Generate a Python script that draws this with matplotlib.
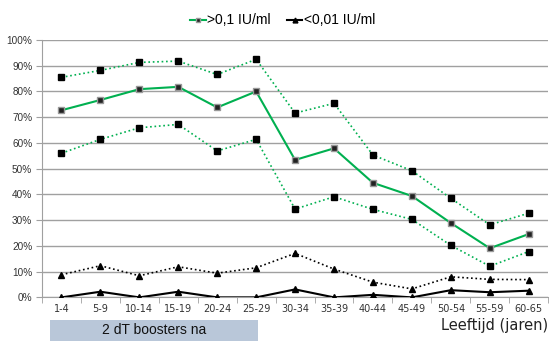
import matplotlib
matplotlib.use("Agg")
import matplotlib.pyplot as plt
from matplotlib.lines import Line2D
from matplotlib.patches import Rectangle

categories = ["1-4", "5-9", "10-14", "15-19", "20-24", "25-29", "30-34",
              "35-39", "40-44", "45-49", "50-54", "55-59", "60-65"]
# >0,1 IU/ml with upper and lower bound (%)
high_mid = [72.7, 76.7, 80.9, 81.8, 73.8, 80.0, 53.4, 57.9, 44.5, 39.4, 28.9, 19.1, 24.6]
high_upper = [85.5, 88.2, 91.3, 91.8, 86.6, 92.5, 71.6, 75.4, 55.3, 49.2, 38.5, 28.2, 32.7]
high_lower = [56.0, 61.4, 65.9, 67.2, 56.9, 61.4, 34.3, 39.1, 34.2, 30.3, 20.2, 12.1, 17.8]
# <0,01 IU/ml with upper bound (%)
low_mid = [0.0, 2.2, 0.0, 2.2, 0.0, 0.0, 3.1, 0.0, 1.0, 0.0, 2.8, 2.0, 2.6]
low_upper = [8.8, 12.3, 8.4, 11.9, 9.4, 11.5, 17.1, 11.0, 5.9, 3.3, 8.0, 7.0, 6.9]

green = "#00b050"
grid_col = "#a0a0a0"

fig = plt.figure(figsize=(5.49, 3.41), dpi=100)
ax = fig.add_axes([0.0765, 0.1279, 0.922, 0.7548])

x = list(range(len(categories)))

ax.plot(x, high_upper, ":", color=green, lw=1.2, marker="s", ms=5,
        mfc="black", mec="black", zorder=3)
ax.plot(x, high_lower, ":", color=green, lw=1.2, marker="s", ms=5,
        mfc="black", mec="black", zorder=3)
ax.plot(x, high_mid, "-", color=green, lw=1.5, marker="s", ms=4,
        mfc="#222222", mec="#999999", mew=1, zorder=4)
ax.plot(x, low_upper, ":", color="black", lw=1.2, marker="^", ms=5,
        mfc="black", mec="black", zorder=3)
ax.plot(x, low_mid, "-", color="black", lw=1.5, marker="^", ms=5,
        mfc="black", mec="black", zorder=4)

ax.set_xlim(-0.5, len(categories) - 0.5)
ax.set_ylim(0, 100)
ax.set_yticks(range(0, 101, 10))
ax.set_yticklabels([f"{v}%" for v in range(0, 101, 10)],
                   fontsize=7.2, family="Liberation Sans", color="#333333")
ax.yaxis.grid(True, color=grid_col, lw=1)
ax.set_axisbelow(True)

ax.set_xticks(x)
ax.set_xticklabels(categories, fontsize=7, family="DejaVu Sans", color="#333333")
ax.set_xticks([i - 0.5 for i in range(len(categories) + 1)], minor=True)
ax.tick_params(axis="x", which="major", length=0, pad=5)
ax.tick_params(axis="x", which="minor", length=4, color=grid_col)
ax.tick_params(axis="y", length=4, color=grid_col, pad=3)

for s in ["top", "right"]:
    ax.spines[s].set_visible(False)
ax.spines["left"].set_color(grid_col)
ax.spines["bottom"].set_color(grid_col)

handles = [
    Line2D([], [], color=green, lw=1.5, marker="s", ms=3.5, mfc="#222222", mec="#999999"),
    Line2D([], [], color="black", lw=1.5, marker="^", ms=3.5, mfc="black", mec="black"),
]
fig.legend(handles, [">0,1 IU/ml", "<0,01 IU/ml"], loc="center",
           bbox_to_anchor=(0.515, 0.94), ncol=2, frameon=False,
           handlelength=1.1, handletextpad=0.1, columnspacing=1.2,
           prop={"family": "Liberation Sans", "size": 10})

fig.text(0.998, 0.044, "Leeftijd (jaren)", ha="right", va="center",
         fontsize=10.5, family="DejaVu Sans", color="#222222")

fig.patches.append(Rectangle((50 / 549, 0), 208 / 549, 21 / 341,
                             transform=fig.transFigure, facecolor="#b9c7d9",
                             edgecolor="none"))
fig.text(154 / 549, 10.5 / 341, "2 dT boosters na", ha="center", va="center",
         fontsize=10, family="Liberation Sans", color="#111111")

fig.savefig("out.png", dpi=100)
